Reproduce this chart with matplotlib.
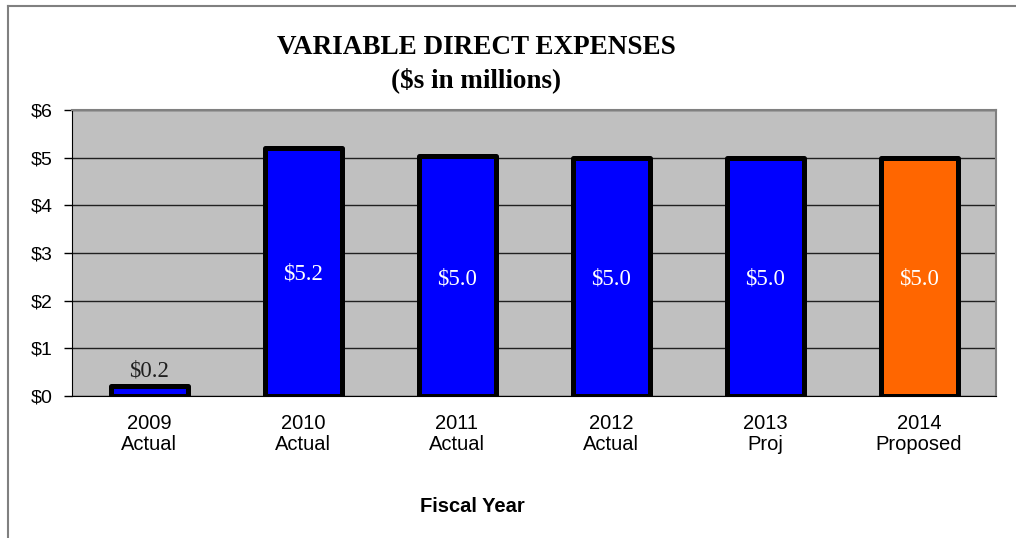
import matplotlib.pyplot as plt
from matplotlib.lines import Line2D

years = ["2009", "2010", "2011", "2012", "2013", "2014"]
statuses = ["Actual", "Actual", "Actual", "Actual", "Proj", "Proposed"]
expenses = [0.2, 5.2, 5.03, 5.0, 5.0, 5.0]
bar_colors = ["#0000FF", "#0000FF", "#0000FF", "#0000FF", "#0000FF", "#FF6600"]
y_ticks = [0, 1, 2, 3, 4, 5, 6]

fig = plt.figure(figsize=(10.16, 5.38), dpi=100)
ax = fig.add_axes([72 / 1016, 1 - 396 / 538, 924 / 1016, 286 / 538])

ax.set_facecolor("#C0C0C0")
x = list(range(len(years)))
bars = ax.bar(x, expenses, width=0.5, color=bar_colors, edgecolor="black",
              linewidth=3.6, zorder=3)
for b in bars:
    b.set_joinstyle("round")

ax.set_xlim(-0.5, len(years) - 0.5)
ax.set_ylim(0, 6)
ax.set_yticks(y_ticks)
ax.set_yticklabels([f"${v}" for v in y_ticks], fontfamily="Liberation Sans", fontsize=14)
ax.yaxis.grid(True, color="#202020", linewidth=1.0, zorder=1)
ax.set_axisbelow(True)

ax.set_xticks(x)
ax.set_xticklabels([f"{y}\n{s}" for y, s in zip(years, statuses)],
                   fontfamily="Liberation Sans", fontsize=14.5, linespacing=1.1)
ax.tick_params(axis="x", length=0, pad=13)
ax.tick_params(axis="y", direction="out", length=6, width=1, pad=8)

for side in ("top", "right"):
    ax.spines[side].set_color("#808080")
    ax.spines[side].set_linewidth(1.5)
ax.spines["left"].set_color("black")
ax.spines["bottom"].set_color("black")

# value labels: small bars get a label above, tall bars a white label inside
for xi, v in zip(x, expenses):
    if v < 1:
        ax.text(xi, v + 0.1, f"${v:.1f}", ha="center", va="bottom",
                fontfamily="Liberation Serif", fontsize=16.5, color="#202020", zorder=4)
    else:
        ax.text(xi, v / 2 - 0.05, f"${v:.1f}", ha="center", va="center",
                fontfamily="Liberation Serif", fontsize=16.5, color="white", zorder=4)

fig.text(476 / 1016, 1 - 47 / 538, "VARIABLE DIRECT EXPENSES", ha="center", va="center",
         fontfamily="Liberation Serif", fontweight="bold", fontsize=19.5)
fig.text(476 / 1016, 1 - 80 / 538, "($s in millions)", ha="center", va="center",
         fontfamily="Liberation Serif", fontweight="bold", fontsize=19.5)
fig.text(472 / 1016, 1 - 506 / 538, "Fiscal Year", ha="center", va="center",
         fontfamily="Liberation Sans", fontweight="bold", fontsize=14.5)

# chart frame (left and top edges)
fig.add_artist(Line2D([8 / 1016, 8 / 1016], [0, 1 - 6 / 538], color="#808080", linewidth=1.5))
fig.add_artist(Line2D([8 / 1016, 1], [1 - 6 / 538, 1 - 6 / 538], color="#808080", linewidth=1.5))

fig.savefig("out.png", dpi=100)
